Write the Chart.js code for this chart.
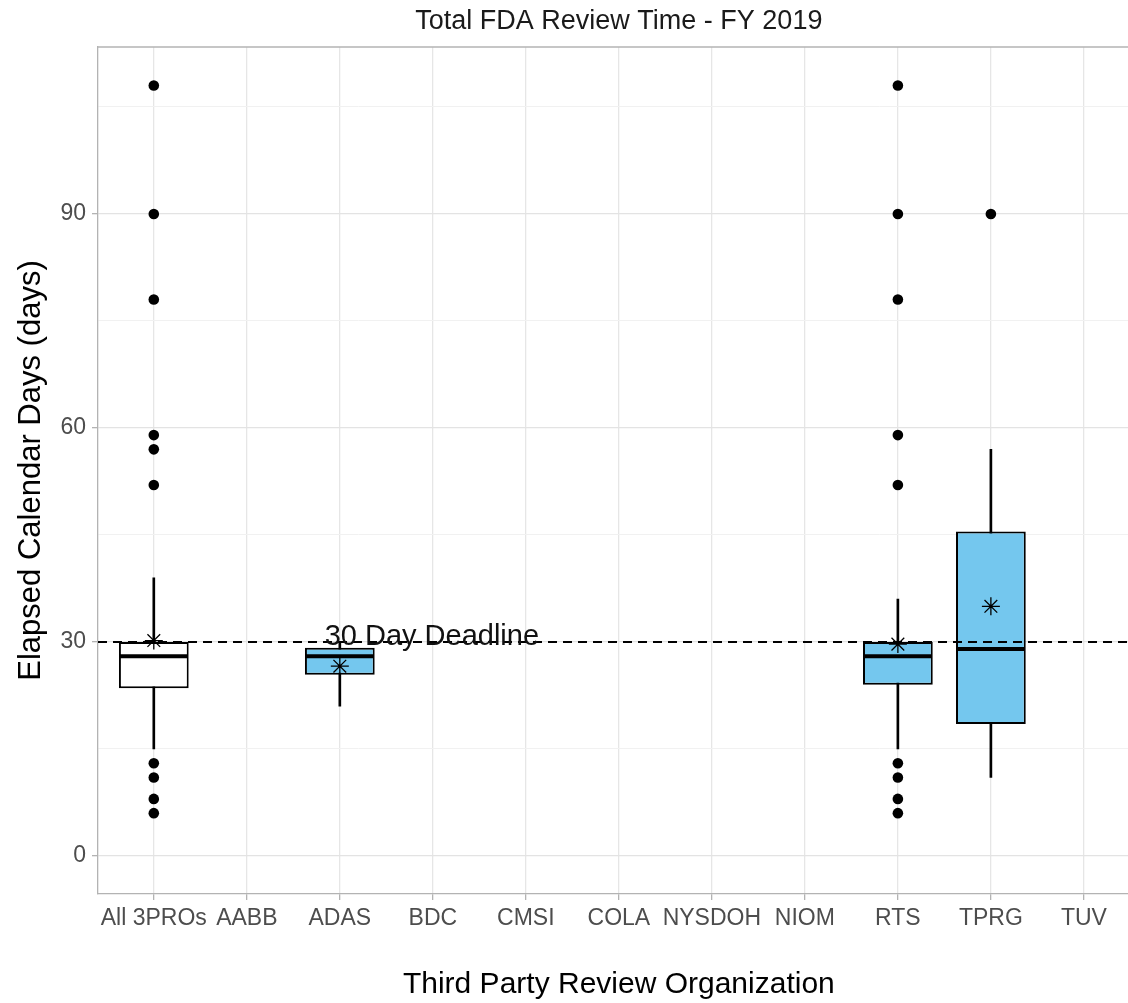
<!DOCTYPE html>
<html><head><meta charset="utf-8">
<script src="https://cdn.jsdelivr.net/npm/chart.js@4/dist/chart.umd.min.js"></script>
<style>
html,body{margin:0;padding:0;background:#fff;overflow:hidden;width:1128px;height:1003px}
#wrap{position:absolute;left:0;top:0;width:1150px;height:1003px}
</style></head>
<body><div id="wrap"><canvas id="c"></canvas></div>
<script>
// ---- data ----
const categories = ['All 3PROs','AABB','ADAS','BDC','CMSI','COLA','NYSDOH','NIOM','RTS','TPRG','TUV'];
const boxCategories = ['All 3PROs','ADAS','RTS','TPRG'];
const lowerWhisker = [15, 21, 15, 11];
const q1 = [23.5, 25.4, 24, 18.5];
const medians = [28, 28, 28, 29];
const q3 = [30, 29.2, 30, 45.5];
const upperWhisker = [39, 30, 36, 57];
const means = [30.2, 26.6, 29.7, 35];
const boxFills = ['#ffffff', '#74c7ee', '#74c7ee', '#74c7ee'];
const outliersAll3PROs = [108, 90, 78, 59, 57, 52, 13, 11, 8, 6];
const outliersRTS = [108, 90, 78, 59, 52, 13, 11, 8, 6];
const outliersTPRG = [90];
const deadlineValue = 30;
const deadlineLabel = '30 Day Deadline';
const deadlineLabelCategory = 'BDC';
const yMajorTicks = [0, 30, 60, 90];

const idx = c => categories.indexOf(c);
const outlierPoints = [
  ...outliersAll3PROs.map(v => ({x: idx('All 3PROs'), y: v})),
  ...outliersRTS.map(v => ({x: idx('RTS'), y: v})),
  ...outliersTPRG.map(v => ({x: idx('TPRG'), y: v}))
];

const FONT = 'Liberation Sans';

const overlay = {
  id: 'overlay',
  beforeDatasetsDraw(chart) {
    const {ctx, chartArea: a} = chart;
    ctx.save();
    ctx.strokeStyle = '#b3b3b3';
    ctx.lineWidth = 1.3;
    ctx.beginPath();
    ctx.moveTo(a.left, a.top); ctx.lineTo(a.right, a.top);
    ctx.stroke();
    ctx.restore();
  },
  afterDatasetsDraw(chart) {
    const {ctx, chartArea: a, scales: {x, y}} = chart;
    ctx.save();
    // medians
    ctx.strokeStyle = '#000';
    ctx.lineWidth = 4;
    boxCategories.forEach((c, i) => {
      const cx = x.getPixelForValue(idx(c));
      const hw = x.getPixelForValue(idx(c) + 0.375) - cx;
      const py = y.getPixelForValue(medians[i]);
      ctx.beginPath();
      ctx.moveTo(cx - hw + 1, py); ctx.lineTo(cx + hw - 1, py);
      ctx.stroke();
    });
    // deadline line
    const dy = y.getPixelForValue(deadlineValue);
    ctx.setLineDash([9, 6]);
    ctx.lineWidth = 2;
    ctx.beginPath();
    ctx.moveTo(a.left, dy); ctx.lineTo(a.right, dy);
    ctx.stroke();
    ctx.setLineDash([]);
    // label
    ctx.fillStyle = '#111';
    ctx.font = '29px "' + FONT + '"';
    ctx.textAlign = 'center';
    ctx.textBaseline = 'alphabetic';
    ctx.fillText(deadlineLabel, x.getPixelForValue(idx(deadlineLabelCategory)) - 1, dy + 3);
    ctx.restore();
  }
};

new Chart(document.getElementById('c'), {
  type: 'bar',
  data: {
    datasets: [
      {
        type: 'scatter',
        data: boxCategories.map((c, i) => ({x: idx(c), y: means[i]})),
        pointStyle: 'star', pointRadius: 9, pointHoverRadius: 9,
        borderColor: '#000', backgroundColor: '#000', borderWidth: 1.3,
        order: 1
      },
      {
        type: 'scatter',
        data: outlierPoints,
        pointStyle: 'circle', pointRadius: 5.3, pointHoverRadius: 5.3,
        backgroundColor: '#000', borderColor: '#000', borderWidth: 0,
        order: 2
      },
      {
        type: 'bar',
        data: boxCategories.map((c, i) => ({x: idx(c), y: [q1[i], q3[i]]})),
        backgroundColor: boxFills, borderColor: '#000', borderWidth: 2,
        borderSkipped: false, barPercentage: 0.75, categoryPercentage: 1,
        grouped: false, order: 4
      },
      {
        type: 'bar',
        data: boxCategories.map((c, i) => ({x: idx(c), y: [lowerWhisker[i], upperWhisker[i]]})),
        backgroundColor: '#000', barThickness: 2, borderWidth: 0,
        grouped: false, order: 5
      }
    ]
  },
  options: {
    responsive: true,
    maintainAspectRatio: false,
    animation: false,
    layout: {padding: {left: 0, right: 10, top: 0, bottom: 0}},
    plugins: {
      legend: {display: false},
      tooltip: {enabled: false},
      title: {
        display: true, text: 'Total FDA Review Time - FY 2019', fullSize: false,
        color: '#1a1a1a', font: {family: FONT, size: 27, weight: 'normal'},
        padding: {top: 5, bottom: 9.6}
      }
    },
    scales: {
      x: {
        type: 'linear', min: -0.6, max: 10.6, offset: false,
        afterFit: s => { s.height = 109; },
        ticks: {
          stepSize: 1, includeBounds: false, autoSkip: false, maxRotation: 0, minRotation: 0,
          color: '#4d4d4d', font: {family: FONT, size: 23}, padding: 5,
          callback: v => categories[v] ?? ''
        },
        grid: {offset: false, color: '#e6e6e6', lineWidth: 1.3, tickLength: 6, tickColor: '#b3b3b3', tickWidth: 1.3},
        border: {color: '#b3b3b3', width: 1.3},
        title: {display: true, text: 'Third Party Review Organization', color: '#000',
          font: {family: FONT, size: 30}, padding: {top: 0, bottom: 0}}
      },
      y: {
        type: 'linear', min: -5.33, max: 113.4,
        afterFit: s => { s.width = 98; },
        ticks: {
          stepSize: 15, includeBounds: false, color: '#4d4d4d', font: {family: FONT, size: 23}, padding: 6,
          callback: v => yMajorTicks.includes(v) ? String(v) : ''
        },
        grid: {
          color: c => yMajorTicks.includes(c.tick.value) ? '#e3e3e3' : '#f1f1f1',
          lineWidth: c => yMajorTicks.includes(c.tick.value) ? 1.3 : 1,
          tickLength: 6,
          tickColor: c => yMajorTicks.includes(c.tick.value) ? '#b3b3b3' : 'rgba(0,0,0,0)',
          tickWidth: 1.3
        },
        border: {color: '#b3b3b3', width: 1.3},
        title: {display: true, text: 'Elapsed Calendar Days (days)', color: '#000',
          font: {family: FONT, size: 31}, padding: {top: 13, bottom: 0}}
      }
    }
  },
  plugins: [overlay]
});
</script>
</body></html>
